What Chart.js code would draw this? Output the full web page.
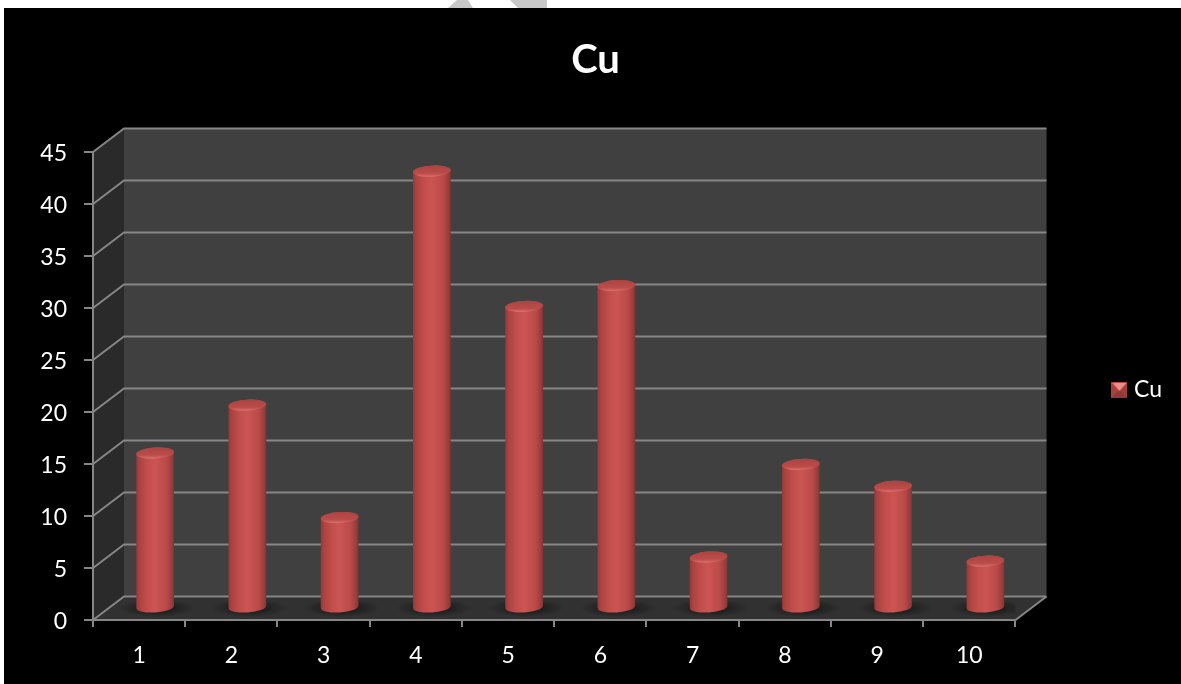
<!DOCTYPE html>
<html>
<head>
<meta charset="utf-8">
<title>Cu</title>
<style>
  html, body { margin: 0; padding: 0; background: #fff; overflow: hidden; }
  #chartCanvas { position: absolute; left: 4px; top: 8px; background: #000; }
  .mark { position: absolute; top: 0; height: 8px; background: #c8c8c8; }
  #markA { left: 448px; width: 25px; clip-path: polygon(9px 0, 20px 0, 25px 8px, 0 8px); }
  #markB { left: 510px; width: 37px; clip-path: polygon(0 0, 37px 0, 37px 8px, 8px 8px); }
</style>
</head>
<body>
<div class="mark" id="markA"></div>
<div class="mark" id="markB"></div>
<canvas id="chartCanvas" width="1177" height="676"></canvas>
<script src="https://cdn.jsdelivr.net/npm/chart.js@4/dist/chart.umd.js"></script>
<script>
const categories = ['1', '2', '3', '4', '5', '6', '7', '8', '9', '10'];
const cuValues = [14.9, 19.5, 8.7, 42, 29, 31, 4.9, 13.8, 11.7, 4.5];
const seriesName = 'Cu';
const yTicks = [0, 5, 10, 15, 20, 25, 30, 35, 40, 45];

const FONT = 'Lato, Carlito, sans-serif';
const LINE = '#868686';
// 3D box depth, wall is this far from the axes
const WALL_DX = 31, WALL_DY = -23.5;
// bars stand half way into the box
const BAR_DX = 16, BAR_DY = -12;

const legendMarker = () => {
  const c = document.createElement('canvas');
  c.width = 16; c.height = 16;
  const g = c.getContext('2d');
  const tri = (pts, col) => {
    g.fillStyle = col;
    g.beginPath();
    pts.forEach((p, i) => i ? g.lineTo(p[0], p[1]) : g.moveTo(p[0], p[1]));
    g.closePath();
    g.fill();
  };
  g.fillStyle = '#b04543';
  g.fillRect(0, 0, 16, 16);
  tri([[0, 0], [8, 8], [0, 16]], '#a8403e');
  tri([[16, 0], [8, 8], [16, 16]], '#a03d3b');
  tri([[0, 16], [8, 8], [16, 16]], '#8e3937');
  tri([[1, 1], [15, 1], [8, 9]], '#ec8f8c');
  return c;
};

// draw the bars as cylinders
Chart.BarElement.prototype.draw = function (ctx) {
  const { x, y, base, width } = this.getProps(['x', 'y', 'base', 'width'], true);
  const cx = x + BAR_DX, top = y + BAR_DY, bottom = base + BAR_DY;
  const rx = width / 2, ry = 5.5, tilt = -0.06;
  const l = cx - rx, r = cx + rx;

  // floor shadow
  ctx.save();
  ctx.translate(cx + 2, bottom + 1);
  ctx.scale(1, 0.24);
  const sh = ctx.createRadialGradient(0, 0, rx * 0.5, 0, 0, rx * 2);
  sh.addColorStop(0, 'rgba(18,18,18,0.75)');
  sh.addColorStop(1, 'rgba(18,18,18,0)');
  ctx.fillStyle = sh;
  ctx.beginPath();
  ctx.arc(0, 0, rx * 2, 0, Math.PI * 2);
  ctx.fill();
  ctx.restore();

  const body = ctx.createLinearGradient(l, 0, r, 0);
  body.addColorStop(0, '#8f3a38');
  body.addColorStop(0.08, '#a94341');
  body.addColorStop(0.3, '#c24e4c');
  body.addColorStop(0.5, '#cc5553');
  body.addColorStop(0.8, '#b94a48');
  body.addColorStop(0.95, '#963c3a');
  body.addColorStop(1, '#7f3230');
  ctx.fillStyle = body;
  ctx.beginPath();
  ctx.ellipse(cx, bottom, rx, ry, tilt, 0, Math.PI);
  ctx.ellipse(cx, top, rx, ry, tilt, Math.PI, Math.PI * 2);
  ctx.closePath();
  ctx.fill();

  const cap = ctx.createLinearGradient(0, top - ry, 0, top + ry);
  cap.addColorStop(0, '#ac4442');
  cap.addColorStop(0.7, '#bb4c49');
  cap.addColorStop(1, '#d9706c');
  ctx.fillStyle = cap;
  ctx.beginPath();
  ctx.ellipse(cx, top, rx, ry, tilt, 0, Math.PI * 2);
  ctx.fill();
};

// side wall, back wall, floor and their grid lines
const boxPlugin = {
  id: 'box',
  beforeDraw(chart) {
    const { ctx, scales: { x, y } } = chart;
    const left = x.left, right = x.right;
    const y0 = y.getPixelForValue(yTicks[0]);
    const yTop = y.getPixelForValue(yTicks[yTicks.length - 1]);
    const poly = (pts, col) => {
      ctx.fillStyle = col;
      ctx.beginPath();
      pts.forEach((p, i) => i ? ctx.lineTo(p[0], p[1]) : ctx.moveTo(p[0], p[1]));
      ctx.closePath();
      ctx.fill();
    };
    ctx.save();
    poly([[left + WALL_DX, yTop + WALL_DY], [right + WALL_DX, yTop + WALL_DY], [right + WALL_DX, y0 + WALL_DY], [left + WALL_DX, y0 + WALL_DY]], '#404040');
    poly([[left, yTop], [left + WALL_DX, yTop + WALL_DY], [left + WALL_DX, y0 + WALL_DY], [left, y0]], '#2a2a2a');
    poly([[left, y0], [left + WALL_DX, y0 + WALL_DY], [right + WALL_DX, y0 + WALL_DY], [right, y0]], '#313131');
    ctx.strokeStyle = LINE;
    ctx.lineWidth = 2;
    yTicks.forEach(t => {
      const py = y.getPixelForValue(t);
      ctx.beginPath();
      ctx.moveTo(left, py);
      ctx.lineTo(left + WALL_DX, py + WALL_DY);
      ctx.lineTo(right + WALL_DX, py + WALL_DY);
      ctx.stroke();
    });
    ctx.beginPath();
    ctx.moveTo(right, y0);
    ctx.lineTo(right + WALL_DX, y0 + WALL_DY);
    ctx.stroke();
    ctx.restore();
  },
  afterLayout(chart) {
    // the legend sits further left than the layout would put it
    chart.legend.left -= 9;
    chart.legend.right -= 9;
    chart.legend.top += 44;
    chart.legend.bottom += 44;
    // y labels hang a little below their ticks
    chart.scales.y.getLabelItems().forEach(item => { item.options.translation[1] += 2; });
  }
};

new Chart(document.getElementById('chartCanvas').getContext('2d'), {
  type: 'bar',
  data: {
    labels: categories,
    datasets: [{ label: seriesName, data: cuValues, backgroundColor: '#c0504d' }]
  },
  plugins: [boxPlugin],
  options: {
    responsive: false,
    animation: false,
    events: [],
    layout: { padding: { left: 6, right: 0, top: 0, bottom: 0 } },
    datasets: { bar: { barPercentage: 0.41, categoryPercentage: 1 } },
    plugins: {
      tooltip: { enabled: false },
      title: {
        display: true,
        text: seriesName,
        color: '#fff',
        font: { family: FONT, size: 40, weight: 'bold', lineHeight: 1.2 },
        padding: { top: 28, bottom: 68 }
      },
      legend: {
        display: true,
        position: 'right',
        labels: {
          color: '#fff',
          font: { family: FONT, size: 23 },
          usePointStyle: true,
          pointStyle: legendMarker(),
          boxWidth: 6,
          padding: 110
        }
      }
    },
    scales: {
      x: {
        grid: { color: LINE, lineWidth: 2, drawOnChartArea: false, tickLength: 7 },
        border: { color: LINE, width: 2 },
        ticks: { color: '#fff', font: { family: FONT, size: 23 }, padding: 15, maxRotation: 0 },
        afterFit: s => { s.height = 64; }
      },
      y: {
        min: 0,
        max: 45,
        grid: { color: LINE, lineWidth: 2, drawOnChartArea: false, tickLength: 9 },
        border: { color: LINE, width: 2 },
        ticks: { color: '#fff', stepSize: 5, font: { family: FONT, size: 23 }, padding: 17 },
        afterFit: s => { s.width = 83; }
      }
    }
  }
});
</script>
</body>
</html>
